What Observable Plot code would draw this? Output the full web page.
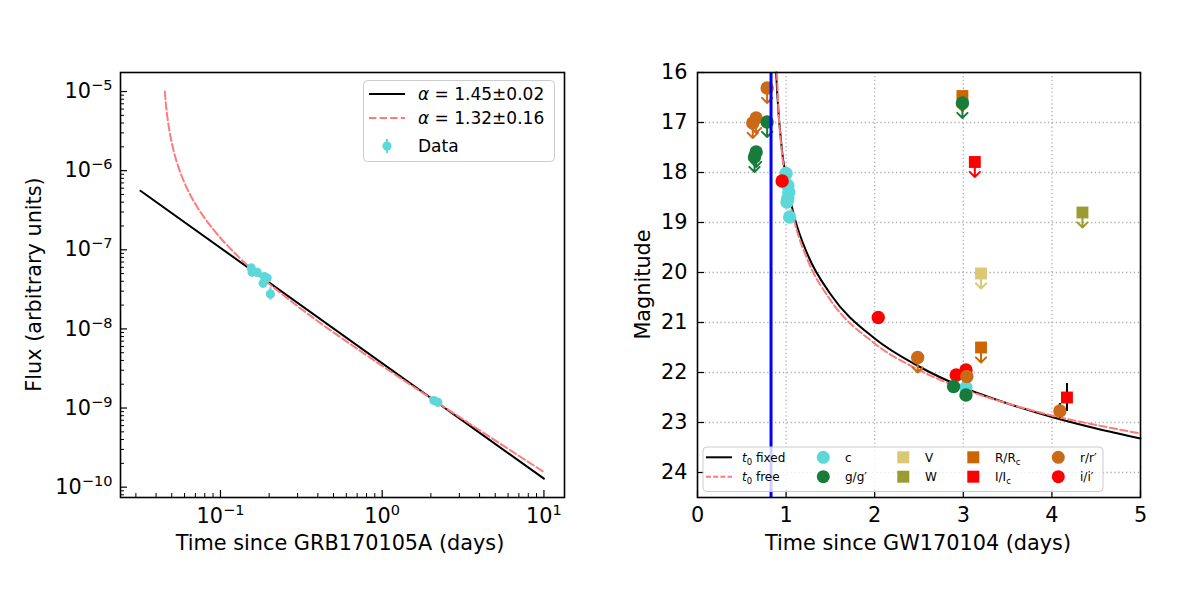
<!DOCTYPE html>
<html><head><meta charset="utf-8">
<script src="https://cdn.jsdelivr.net/npm/d3@7"></script>
<script src="https://cdn.jsdelivr.net/npm/@observablehq/plot@0.6"></script>
<style>
body{margin:0;background:#fff;font-family:"DejaVu Sans",sans-serif;}
#wrap{position:relative;width:1200px;height:600px;overflow:hidden;}
</style></head><body><div id="wrap"></div>
<script>
// ---------- Left panel data (GRB170105A) ----------
const grbTime = [0.155, 0.157, 0.1687, 0.187, 0.1945, 0.1836, 0.2037, 2.087, 2.21];
const grbFlux = [5.89e-8, 5.19e-8, 5.19e-8, 4.57e-8, 4.40e-8, 3.77e-8, 2.77e-8, 1.245e-9, 1.18e-9];
const grbFluxErrDex = [0.04, 0.04, 0.03, 0.04, 0.04, 0.05, 0.08, 0.03, 0.03];
const fitFixedTime = [0.032, 10];
const fitFixedFlux = [5.57e-7, 1.28e-10];
const fitFreeTime = [0.0453, 0.046, 0.047, 0.048, 0.05, 0.052, 0.055, 0.06, 0.065, 0.07, 0.08, 0.09, 0.1, 0.13, 0.17, 0.25, 0.4, 0.7, 1.0, 2.0, 4.0, 10];
const fitFreeFlux = [1e-5, 6.89e-6, 4.71e-6, 3.51e-6, 2.25e-6, 1.61e-6, 1.11e-6, 6.98e-7, 4.97e-7, 3.79e-7, 2.5e-7, 1.82e-7, 1.41e-7, 8.08e-8, 4.91e-8, 2.58e-8, 1.25e-8, 5.61e-9, 3.41e-9, 1.33e-9, 5.24e-10, 1.55e-10];
const leftXTicks = [0.1, 1, 10];
const leftYTicks = [1e-10, 1e-9, 1e-8, 1e-7, 1e-6, 1e-5];
const leftLegendLabels = ["1.45±0.02", "1.32±0.16", "Data"];

// ---------- Right panel data (GW170104) ----------
const bands = ["c", "g", "V", "W", "R", "I", "r", "i"];
const bandLabels = ["c", "g/g′", "V", "W", "R/R", "I/I", "r/r′", "i/i′"];
const bandColors = ["#5dd8d8", "#177c3b", "#dac874", "#9b9b32", "#cc6600", "#ff0000", "#cb6a16", "#ff0000"];
const bandSymbols = ["circle", "circle", "square", "square", "square", "square", "circle", "circle"];

const detBand = ["c", "c", "c", "c", "c", "c", "c", "I", "i", "i", "i", "i", "g", "g", "r", "r"];
const detTime = [1.00, 1.02, 1.03, 1.02, 1.01, 1.04, 3.03, 4.17, 0.955, 2.04, 2.92, 3.03, 2.89, 3.03, 3.04, 4.09];
const detMag = [18.02, 18.26, 18.39, 18.52, 18.59, 18.89, 22.30, 22.50, 18.17, 20.90, 22.05, 21.95, 22.28, 22.45, 22.08, 22.77];
const detErr = [0, 0, 0, 0, 0, 0, 0, 0.28, 0, 0, 0, 0, 0, 0, 0, 0.15];

const limBand = ["V", "W", "R", "R", "I", "r", "r", "r", "r", "g", "g", "g", "g"];
const limTime = [3.20, 4.345, 2.99, 3.20, 3.13, 0.786, 0.662, 0.624, 2.485, 0.786, 0.662, 0.643, 2.99];
const limMag = [20.02, 18.80, 16.47, 21.50, 17.79, 16.31, 16.91, 17.01, 21.70, 16.99, 17.59, 17.69, 16.61];

const fixedT = [0.888, 0.9, 0.95, 1.0, 1.1, 1.25, 1.5, 2.0, 2.5, 3.0, 3.5, 4.0, 4.5, 5.0];
const fixedMag = [16.0, 16.42, 17.50, 18.13, 18.93, 19.67, 20.43, 21.32, 21.88, 22.30, 22.62, 22.89, 23.12, 23.32];
const freeT = [0.897, 0.91, 0.95, 1.0, 1.1, 1.25, 1.5, 2.0, 2.5, 3.0, 3.5, 4.0, 4.5, 5.0];
const freeMag = [16.0, 16.6, 17.55, 18.2, 19.02, 19.78, 20.55, 21.42, 21.95, 22.33, 22.62, 22.86, 23.05, 23.22];
const grbOffset = [0.83];
const rightXTicks = [0, 1, 2, 3, 4, 5];
const rightYTicks = [16, 17, 18, 19, 20, 21, 22, 23, 24];

// ---------- build tables ----------
const leftData = grbTime.map((t, i) => ({t, f: grbFlux[i], e: grbFluxErrDex[i]}));
const leftFixed = fitFixedTime.map((t, i) => ({t, f: fitFixedFlux[i]}));
const leftFree = fitFreeTime.map((t, i) => ({t, f: fitFreeFlux[i]}));
const dets = detTime.map((t, i) => ({t, m: detMag[i], e: detErr[i], b: detBand[i]}));
const lims = limTime.map((t, i) => ({t, m: limMag[i], b: limBand[i]}));
const fixedCurve = fixedT.map((t, i) => ({t, m: fixedMag[i]}));
const freeCurve = freeT.map((t, i) => ({t, m: freeMag[i]}));

const W = 600, H = 600, MT = 72, MB = 103;
const FH = H - MT - MB;
const FS = 20.8;
const cyan = "#5dd8d8", pink = "#ff7b7b";
const pow10 = d => "10^" + Math.round(Math.log10(d));

const wrap = document.getElementById("wrap");

// ---------- Left plot ----------
const LML = 120, LMR = 36;
const LFW = W - LML - LMR;
const lxDomain = [0.0241, 13.4], lyDomain = [7.4e-11, 1.74e-5];
const isPow = d => Math.abs(Math.log10(d) - Math.round(Math.log10(d))) < 1e-9;
const lxMinor = d3.scaleLog().domain(lxDomain).ticks().filter(d => !isPow(d));
const lyMinor = d3.scaleLog().domain(lyDomain).ticks().filter(d => !isPow(d));

const left = Plot.plot({
  width: W, height: H, marginLeft: LML, marginRight: LMR, marginTop: MT, marginBottom: MB,
  x: {type: "log", domain: lxDomain},
  y: {type: "log", domain: lyDomain},
  style: {position: "absolute", left: "0px", top: "0px", fontFamily: "DejaVu Sans", fontSize: FS + "px", background: "transparent", color: "black", overflow: "visible"},
  marks: [
    Plot.line(leftFixed, {x: "t", y: "f", stroke: "black", strokeWidth: 2}),
    Plot.line(leftFree, {x: "t", y: "f", stroke: pink, strokeWidth: 2, strokeDasharray: "7.4,3.2", curve: "monotone-x"}),
    Plot.ruleX(leftData, {x: "t", y1: d => d.f / Math.pow(10, d.e), y2: d => d.f * Math.pow(10, d.e), stroke: cyan, strokeWidth: 2}),
    Plot.dot(leftData, {x: "t", y: "f", r: 4.6, fill: cyan}),
    Plot.tickX(leftXTicks, {x: d => d, insetTop: FH - 7, stroke: "black", strokeWidth: 1.2}),
    Plot.tickX(lxMinor, {x: d => d, insetTop: FH - 4, stroke: "black", strokeWidth: 1}),
    Plot.tickY(leftYTicks, {y: d => d, insetRight: LFW - 7, stroke: "black", strokeWidth: 1.2}),
    Plot.tickY(lyMinor, {y: d => d, insetRight: LFW - 4, stroke: "black", strokeWidth: 1}),
    Plot.axisX(leftXTicks, {tickSize: 0, tickPadding: 11, tickFormat: pow10, label: null}),
    Plot.axisY(leftYTicks, {tickSize: 0, tickPadding: 8, tickFormat: pow10, label: null}),
    Plot.frame({stroke: "black", strokeWidth: 1.6})
  ]
});
wrap.appendChild(left);

// ---------- Right plot ----------
const RML = 97, RMR = 60;
const RFW = W - RML - RMR;
const right = Plot.plot({
  width: W, height: H, marginLeft: RML, marginRight: RMR, marginTop: MT, marginBottom: MB,
  x: {domain: [0, 5]},
  y: {domain: [16, 24.5], reverse: true},
  color: {domain: bands, range: bandColors},
  symbol: {domain: bands, range: bandSymbols},
  style: {position: "absolute", left: "600px", top: "0px", fontFamily: "DejaVu Sans", fontSize: FS + "px", background: "transparent", color: "black", overflow: "visible"},
  marks: [
    Plot.ruleX(rightXTicks.slice(1, -1), {x: d => d, stroke: "#b0b0b0", strokeWidth: 1.3, strokeDasharray: "1.3,2.6"}),
    Plot.ruleY(rightYTicks.slice(1), {y: d => d, stroke: "#b0b0b0", strokeWidth: 1.3, strokeDasharray: "1.3,2.6"}),
    Plot.line(fixedCurve, {x: "t", y: "m", stroke: "black", strokeWidth: 2, curve: "monotone-x"}),
    Plot.line(freeCurve, {x: "t", y: "m", stroke: pink, strokeWidth: 2, strokeDasharray: "7.4,3.2", curve: "monotone-x"}),
    Plot.vector(lims, {x: "t", y: "m", stroke: "b", length: 15, rotate: 180, anchor: "start", r: 6, strokeWidth: 2}),
    Plot.dot(lims, {x: "t", y: "m", fill: "b", symbol: "b", r: 6.7}),
    Plot.ruleX(dets.filter(d => d.e > 0), {x: "t", y1: d => d.m - d.e, y2: d => d.m + d.e, stroke: "black", strokeWidth: 2}),
    Plot.dot(dets, {x: "t", y: "m", fill: "b", symbol: "b", r: 6.7}),
    Plot.ruleX(grbOffset, {x: d => d, stroke: "#0000ff", strokeWidth: 3}),
    Plot.tickX(rightXTicks, {x: d => d, insetTop: FH - 7, stroke: "black", strokeWidth: 1.2}),
    Plot.tickY(rightYTicks, {y: d => d, insetRight: RFW - 7, stroke: "black", strokeWidth: 1.2}),
    Plot.axisX(rightXTicks, {tickSize: 0, tickPadding: 10, tickFormat: d => String(d), label: null}),
    Plot.axisY(rightYTicks, {tickSize: 0, tickPadding: 10, tickFormat: d => String(d), label: null}),
    Plot.frame({stroke: "black", strokeWidth: 1.6})
  ]
});
wrap.appendChild(right);

// mathtext-like superscripts for the power-of-ten tick labels
d3.select(left).selectAll("text").each(function () {
  const s = this.textContent;
  if (s.indexOf("^") < 0) return;
  const [base, ex] = s.split("^");
  const sel = d3.select(this);
  sel.text(null);
  sel.append("tspan").text(base);
  sel.append("tspan").attr("font-size", "0.7em").attr("dy", "-0.55em").text(ex.replace("-", "−"));
});

// ---------- Overlay: axis titles and legends ----------
const ov = d3.create("svg").attr("width", 1200).attr("height", 600)
  .style("position", "absolute").style("left", "0px").style("top", "0px")
  .attr("font-family", "DejaVu Sans");

ov.append("text").attr("x", 340).attr("y", 550).attr("text-anchor", "middle").attr("font-size", FS).text("Time since GRB170105A (days)");
ov.append("text").attr("transform", "translate(41,284.5) rotate(-90)").attr("text-anchor", "middle").attr("font-size", FS).text("Flux (arbitrary units)");
ov.append("text").attr("x", 918).attr("y", 550).attr("text-anchor", "middle").attr("font-size", FS).text("Time since GW170104 (days)");
ov.append("text").attr("transform", "translate(650,284.5) rotate(-90)").attr("text-anchor", "middle").attr("font-size", FS).text("Magnitude");

// left legend
const lg = ov.append("g");
lg.append("rect").attr("x", 363.5).attr("y", 80.5).attr("width", 191).attr("height", 81).attr("rx", 4)
  .attr("fill", "white").attr("fill-opacity", 0.8).attr("stroke", "#cccccc");
lg.append("line").attr("x1", 369).attr("x2", 405).attr("y1", 94).attr("y2", 94).attr("stroke", "black").attr("stroke-width", 2);
lg.append("line").attr("x1", 369).attr("x2", 405).attr("y1", 118).attr("y2", 118).attr("stroke", pink).attr("stroke-width", 2).attr("stroke-dasharray", "7.4,3.2");
lg.append("line").attr("x1", 387).attr("x2", 387).attr("y1", 139).attr("y2", 153).attr("stroke", cyan).attr("stroke-width", 2);
lg.append("circle").attr("cx", 387).attr("cy", 146).attr("r", 4.6).attr("fill", cyan);
[0, 1].forEach(i => {
  const t = lg.append("text").attr("x", 418).attr("y", [94, 118][i]).attr("dy", "0.36em").attr("font-size", 17);
  t.append("tspan").attr("font-style", "italic").text("α");
  t.append("tspan").text(" = " + leftLegendLabels[i]);
});
lg.append("text").attr("x", 418).attr("y", 146).attr("dy", "0.36em").attr("font-size", 17).text(leftLegendLabels[2]);

// right legend
const rg = ov.append("g");
rg.append("rect").attr("x", 703).attr("y", 447).attr("width", 400).attr("height", 44.5).attr("rx", 4)
  .attr("fill", "white").attr("fill-opacity", 0.8).attr("stroke", "#cccccc");
const rows = [457.3, 476.7];
rg.append("line").attr("x1", 706).attr("x2", 732).attr("y1", rows[0]).attr("y2", rows[0]).attr("stroke", "black").attr("stroke-width", 2);
rg.append("line").attr("x1", 706).attr("x2", 732).attr("y1", rows[1]).attr("y2", rows[1]).attr("stroke", pink).attr("stroke-width", 2).attr("stroke-dasharray", "5,2.2");
["fixed", "free"].forEach((w, i) => {
  const t = rg.append("text").attr("x", 742).attr("y", rows[i]).attr("dy", "0.36em").attr("font-size", 12);
  t.append("tspan").attr("font-style", "italic").text("t");
  t.append("tspan").attr("font-size", 8.5).attr("dy", 3).text("0");
  t.append("tspan").attr("dy", -3).text(" " + w);
});
const colX = [823.3, 903.3, 973.3, 1058.3];
bands.forEach((b, i) => {
  const col = Math.floor(i / 2), row = i % 2;
  const cx = colX[col], cy = rows[row];
  if (bandSymbols[i] === "circle") {
    rg.append("circle").attr("cx", cx).attr("cy", cy).attr("r", 6.5).attr("fill", bandColors[i]);
  } else {
    rg.append("rect").attr("x", cx - 6).attr("y", cy - 6).attr("width", 12).attr("height", 12).attr("fill", bandColors[i]);
  }
  const t = rg.append("text").attr("x", cx + 21.7).attr("y", cy).attr("dy", "0.36em").attr("font-size", 12);
  t.append("tspan").text(bandLabels[i]);
  if (b === "R" || b === "I") t.append("tspan").attr("font-size", 8.5).attr("dy", 3).text("c");
});

wrap.appendChild(ov.node());
</script></body></html>
